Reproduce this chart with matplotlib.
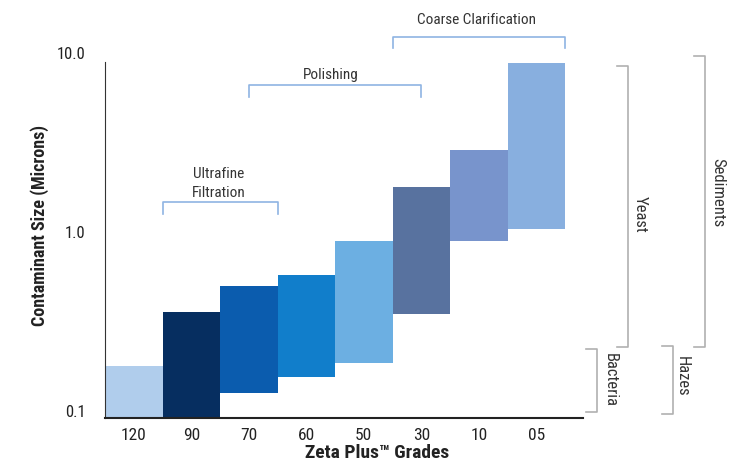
import numpy as np
import matplotlib
matplotlib.use("Agg")
import matplotlib.pyplot as plt
from matplotlib import font_manager

# Data ---------------------------------------------------------------
grades = ["120", "90", "70", "60", "50", "30", "10", "05"]
size_low = [0.0914, 0.0914, 0.126, 0.155, 0.185, 0.35, 0.89, 1.04]
size_high = [0.178, 0.357, 0.50, 0.575, 0.89, 1.78, 2.87, 8.8]
bar_colors = ["#b0cdec", "#062e60", "#0b5cae", "#117ecb", "#6cafe2",
              "#58729f", "#7894cc", "#88afdf"]

y_ticks = [0.1, 1.0, 10.0]
y_tick_labels = ["0.1", "1.0", "10.0"]

# application brackets along the top: (label, x0, x1, y line, y leg, text x, text y)
top_groups = [
    ("Ultrafine\nFiltration", 0.5, 2.5, 1.47, 1.26, 1.48, 1.87),
    ("Polishing", 2.0, 5.0, 6.63, 5.68, 3.43, 7.54),
    ("Coarse Clarification", 4.5, 7.5, 12.4, 10.7, 5.95, 15.3),
]
# contaminant brackets on the right: (label, x, y top, y bottom, text x, text y)
side_groups = [
    ("Yeast", 8.59, 8.46, 0.228, 8.80, 1.26),
    ("Bacteria", 8.06, 0.222, 0.0987, 8.28, 0.149),
    ("Sediments", 9.93, 9.6, 0.228, 10.16, 1.67),
    ("Hazes", 9.375, 0.231, 0.0963, 9.53, 0.157),
]

# condensed look if a narrow face is there, otherwise Liberation Sans
installed = {f.name for f in font_manager.fontManager.ttflist}
wanted = ["Roboto Condensed", "Liberation Sans Narrow", "Open Sans Condensed",
          "Liberation Sans"]
fams = [f for f in wanted if f in installed]
plt.rcParams['font.family'] = fams + ['DejaVu Sans']

fig = plt.figure(figsize=(7.43, 4.61), dpi=100)
ax = fig.add_axes([0.1413, 0.0933, 0.6434, 0.8025])

x = np.arange(len(grades))
heights = np.array(size_high) - np.array(size_low)
ax.bar(x, heights, bottom=size_low, width=1.0, color=bar_colors,
       edgecolor="none", zorder=2)

ax.set_yscale("log")
ax.set_ylim(0.0914, 10.7)
ax.set_xlim(-0.5, 7.81)
ax.set_yticks(y_ticks)
ax.set_yticklabels(y_tick_labels)
ax.minorticks_off()
ax.set_xticks(x)
ax.set_xticklabels(grades)
ax.tick_params(axis="y", length=0, pad=14, labelsize=12, colors="#222222")
ax.tick_params(axis="x", length=0, pad=7, labelsize=12.5, colors="#222222")

for side in ["top", "right"]:
    ax.spines[side].set_visible(False)
ax.spines["left"].set_bounds(0.0914, 8.9)
ax.spines["left"].set_color("#333333")
ax.spines["bottom"].set_color("#222222")
ax.spines["bottom"].set_linewidth(1.5)

ax.set_ylabel("Contaminant Size (Microns)", fontsize=13, fontweight="bold",
              color="#222222", va="center")
ax.yaxis.set_label_coords(-0.136, 0.52)
ax.set_xlabel("Zeta Plus\u2122 Grades", fontsize=14, fontweight="bold",
              color="#222222", va="center")
ax.xaxis.set_label_coords(0.569, -0.094)

blue_line = "#8fb4e3"
for label, x0, x1, yl, yleg, tx, ty in top_groups:
    ax.plot([x0, x0, x1, x1], [yleg, yl, yl, yleg], color=blue_line,
            lw=1.2, clip_on=False, zorder=3)
    ax.text(tx, ty, label, ha="center", va="center", fontsize=11,
            color="#333333", clip_on=False, linespacing=1.4)

gray_line = "#b0b0b0"
tick_w = 0.19
for label, xs, yt, yb, tx, ty in side_groups:
    ax.plot([xs - tick_w, xs, xs, xs - tick_w], [yt, yt, yb, yb],
            color=gray_line, lw=1.2, clip_on=False, zorder=3)
    ax.text(tx, ty, label, ha="center", va="center", rotation=-90,
            fontsize=12, color="#333333", clip_on=False)

plt.savefig("out.png", dpi=100)
plt.close("all")
